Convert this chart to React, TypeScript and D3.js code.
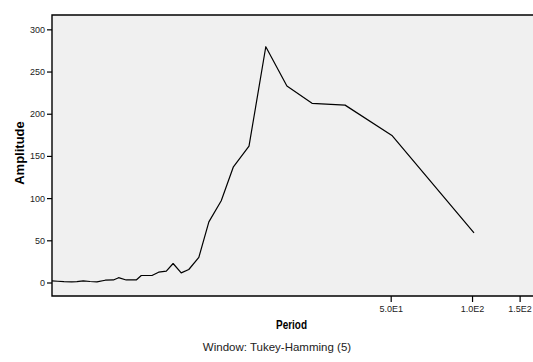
import { useEffect, useRef } from 'react';
import * as d3 from 'd3';

// spectral plot: amplitude by period (log axis)
const periods = [
  2.79, 2.93, 3.09, 3.3, 3.45, 3.64, 3.86, 4.09, 4.39, 4.71, 4.92, 5.25, 5.72,
  5.97, 6.54, 6.92, 7.39, 7.83, 8.39, 8.95, 9.75, 10.62, 11.8, 13.09, 14.95,
  17.25, 20.65, 25.58, 33.9, 50.7, 101.7,
];
const amplitudes = [
  1.9, 1.5, 1.0, 0.7, 1.0, 1.9, 1.2, 0.7, 2.7, 3.0, 5.7, 3.0, 3.0, 8.3, 8.3,
  12.2, 13.4, 22.5, 11.4, 15.4, 29.8, 71.9, 96.8, 137.1, 161.6, 279.4, 232.8,
  212.3, 210.2, 173.8, 58.8,
];
const yTicks = [0, 50, 100, 150, 200, 250, 300];
const xTicks = [50, 100, 150];
const xTickLabels = ['5.0E1', '1.0E2', '1.5E2'];

const xLabel = 'Period';
const yLabel = 'Amplitude';
const footnote = 'Window: Tukey-Hamming (5)';

interface Point {
  period: number;
  amplitude: number;
}

const width = 533;
const height = 362;
const font = "'Liberation Sans', Arial, sans-serif";

export default function App() {
  const svgRef = useRef<SVGSVGElement>(null);

  useEffect(() => {
    if (!svgRef.current) return;
    const svg = d3.select(svgRef.current);
    svg.selectAll('*').remove();

    const margin = { top: 15, right: -2, bottom: 66, left: 52 };
    const chartWidth = width - margin.left - margin.right;
    const chartHeight = height - margin.top - margin.bottom;

    const data: Point[] = periods.map((period, i) => ({
      period,
      amplitude: amplitudes[i],
    }));

    const x = d3.scaleLog().domain([2.79, 171]).range([0, chartWidth]);
    const y = d3.scaleLinear().domain([-16, 317]).range([chartHeight, 0]);

    const defs = svg.append('defs');
    defs
      .append('clipPath')
      .attr('id', 'plot-clip')
      .append('rect')
      .attr('width', chartWidth)
      .attr('height', chartHeight);

    const chart = svg
      .append('g')
      .attr('transform', `translate(${margin.left},${margin.top})`);

    chart
      .append('rect')
      .attr('width', chartWidth)
      .attr('height', chartHeight)
      .attr('fill', '#f0f0f0');

    const line = d3
      .line<Point>()
      .x((d) => x(d.period))
      .y((d) => y(d.amplitude));

    chart
      .append('path')
      .datum(data)
      .attr('clip-path', 'url(#plot-clip)')
      .attr('fill', 'none')
      .attr('stroke', '#000')
      .attr('stroke-width', 1.2)
      .attr('stroke-linejoin', 'round')
      .attr('d', line);

    // frame: top, left, bottom
    chart
      .append('path')
      .attr('d', `M${chartWidth + 5},0H0V${chartHeight}H${chartWidth + 5}`)
      .attr('fill', 'none')
      .attr('stroke', '#000')
      .attr('stroke-width', 1.4);

    const yAxis = d3
      .axisLeft(y)
      .tickValues(yTicks)
      .tickSize(5)
      .tickPadding(2)
      .tickFormat((d) => String(d));

    chart
      .append('g')
      .call(yAxis)
      .call((group) => {
        group.select('.domain').remove();
        group.selectAll('.tick line').attr('stroke', '#000').attr('stroke-width', 1.2);
        group
          .selectAll('.tick text')
          .attr('fill', '#222')
          .attr('font-size', 9)
          .attr('font-family', font);
      });

    const xAxis = d3
      .axisBottom(x)
      .tickValues(xTicks)
      .tickSize(6)
      .tickPadding(4)
      .tickFormat((_, i) => xTickLabels[i]);

    chart
      .append('g')
      .attr('transform', `translate(0,${chartHeight})`)
      .call(xAxis)
      .call((group) => {
        group.select('.domain').remove();
        group.selectAll('.tick line').attr('stroke', '#000').attr('stroke-width', 1.2);
        group
          .selectAll('.tick text')
          .attr('fill', '#222')
          .attr('font-size', 9)
          .attr('font-family', font);
      });

    svg
      .append('text')
      .attr('x', 291.5)
      .attr('y', 329)
      .attr('text-anchor', 'middle')
      .attr('font-size', 12)
      .attr('font-weight', 'bold')
      .attr('font-family', font)
      .attr('textLength', 31)
      .attr('lengthAdjust', 'spacingAndGlyphs')
      .attr('fill', '#000')
      .text(xLabel);

    svg
      .append('text')
      .attr('transform', 'translate(24,153) rotate(-90)')
      .attr('text-anchor', 'middle')
      .attr('font-size', 13)
      .attr('font-weight', 'bold')
      .attr('font-family', font)
      .attr('fill', '#000')
      .text(yLabel);

    svg
      .append('text')
      .attr('x', 277)
      .attr('y', 351)
      .attr('text-anchor', 'middle')
      .attr('font-size', 11.5)
      .attr('font-family', font)
      .attr('fill', '#222')
      .text(footnote);
  }, []);

  return (
    <svg
      ref={svgRef}
      width={width}
      height={height}
      viewBox={`0 0 ${width} ${height}`}
      style={{ position: 'absolute', left: 0, top: 0, background: '#fff' }}
    />
  );
}
